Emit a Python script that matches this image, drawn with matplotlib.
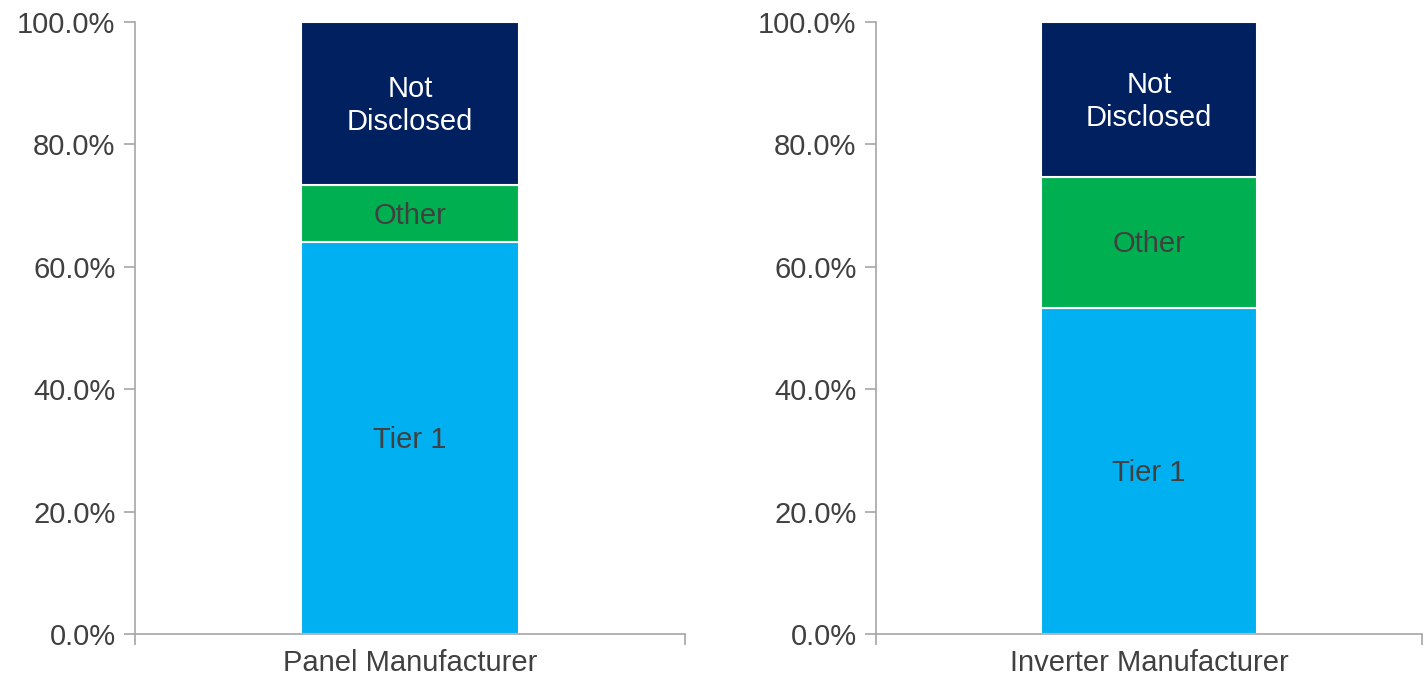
import numpy as np
import matplotlib.pyplot as plt
from matplotlib.ticker import PercentFormatter

plt.rcParams['font.family'] = ['Liberation Sans', 'DejaVu Sans']

categories = ["Panel Manufacturer", "Inverter Manufacturer"]
segments = ["Tier 1", "Other", "Not\nDisclosed"]
tier1 = [64.0, 53.3]
other = [9.3, 21.4]
not_disclosed = [26.7, 25.3]

COLORS = ["#00B0F0", "#00B050", "#002060"]
TEXT_COLORS = ["#404040", "#404040", "white"]
GREY = "#404040"
SPINE = "#A6A6A6"
FS = 21

fig = plt.figure(figsize=(14.24, 6.82), dpi=100)
ax_boxes = [
    [135 / 1424, 1 - 634 / 682, 550 / 1424, 612 / 682],
    [876 / 1424, 1 - 634 / 682, 546 / 1424, 612 / 682],
]

for i, cat in enumerate(categories):
    ax = fig.add_axes(ax_boxes[i])
    vals = [tier1[i], other[i], not_disclosed[i]]
    bottom = 0
    for name, v, c, tc in zip(segments, vals, COLORS, TEXT_COLORS):
        ax.bar(0, v, bottom=bottom, width=0.396, color=c,
               edgecolor="white", linewidth=1.5)
        ax.text(0, bottom + v / 2 - 0.3, name, ha="center", va="center",
                fontsize=FS, color=tc, linespacing=1.25)
        bottom += v

    ax.set_xlim(-0.5, 0.5)
    ax.set_ylim(0, 100)
    ax.set_yticks(np.arange(0, 101, 20))
    ax.yaxis.set_major_formatter(PercentFormatter(decimals=1))
    ax.tick_params(axis="y", labelsize=FS, labelcolor=GREY, color=SPINE,
                   length=8, width=1.2, pad=6)

    ax.set_xticks([0])
    ax.set_xticklabels([cat])
    ax.tick_params(axis="x", which="major", length=0, labelsize=FS,
                   labelcolor=GREY, pad=11)
    ax.set_xticks([-0.5, 0.5], minor=True)
    ax.tick_params(axis="x", which="minor", length=8, width=1.2, color=SPINE)

    for s in ["top", "right"]:
        ax.spines[s].set_visible(False)
    for s in ["left", "bottom"]:
        ax.spines[s].set_color(SPINE)
        ax.spines[s].set_linewidth(1.2)

fig.savefig("out.png", dpi=100)
